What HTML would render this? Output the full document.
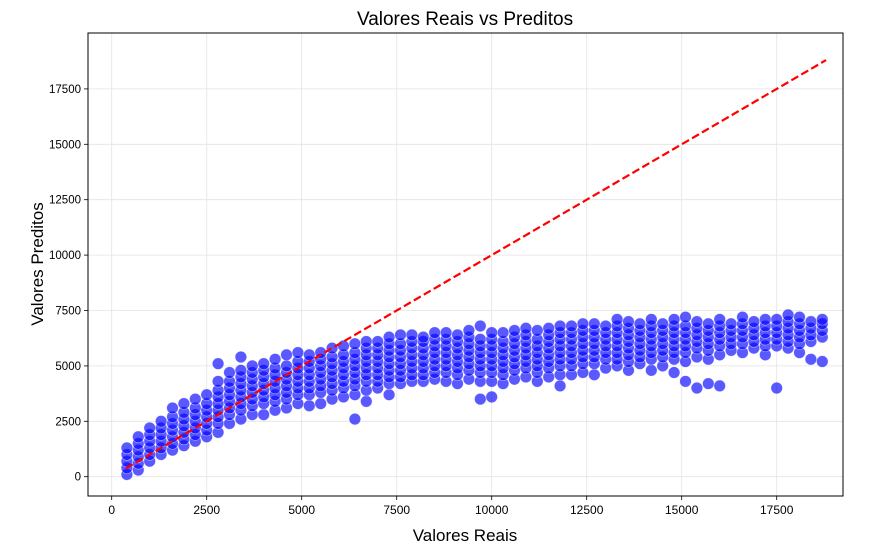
<!DOCTYPE html>
<html><head><meta charset="utf-8"><style>
body{margin:0;background:#fff;}
svg{display:block;font-family:"Liberation Sans","DejaVu Sans",sans-serif;}
</style></head><body>
<svg id="chart" width="873" height="554" xmlns="http://www.w3.org/2000/svg">
<text x="465" y="25" text-anchor="middle" font-size="19">Valores Reais vs Preditos</text>
<text x="465" y="541" text-anchor="middle" font-size="17">Valores Reais</text>
<text x="0" y="0" transform="translate(43,264) rotate(-90)" text-anchor="middle" font-size="17">Valores Preditos</text>
<g id="grid"></g><g id="pts"></g><g id="line"></g><g id="axes"></g>
</svg>
<script>
const xTicks=[0,2500,5000,7500,10000,12500,15000,17500];
const yTicks=[0,2500,5000,7500,10000,12500,15000,17500];
const refLine=[370,18800];
const actualCols=[400,700,1000,1300,1600,1900,2200,2500,2800,3100,3400,3700,4000,4300,4600,4900,5200,5500,5800,6100,6400,6700,7000,7300,7600,7900,8200,8500,8800,9100,9400,9700,10000,10300,10600,10900,11200,11500,11800,12100,12400,12700,13000,13300,13600,13900,14200,14500,14800,15100,15400,15700,16000,16300,16600,16900,17200,17500,17800,18100,18400,18700];
const predictedCols=[
[100,400,700,1000,1300],[300,600,900,1200,1500,1800],[700,1000,1300,1600,1900,2200],[1000,1300,1600,1900,2200,2500],
[1200,1500,1800,2100,2400,2700,3100],[1400,1700,2000,2300,2600,2900,3300],[1600,1900,2200,2500,2800,3100,3500],[1800,2100,2400,2700,3000,3300,3700],
[2000,2400,2700,3000,3300,3600,3900,4300,5100],[2400,2800,3100,3400,3700,4000,4300,4700],[2600,3000,3300,3600,3900,4200,4500,4800,5400],[2800,3200,3500,3800,4100,4400,4700,5000],
[2800,3300,3600,3900,4200,4500,4800,5100],[3000,3400,3700,4000,4300,4600,4900,5300],[3100,3500,3800,4100,4400,4700,5000,5500],[3300,3700,4000,4300,4600,4900,5200,5600],
[3200,3700,4000,4300,4600,4900,5200,5500],[3300,3800,4100,4400,4700,5000,5300,5600],[3500,3900,4200,4500,4800,5100,5400,5800],[3600,4000,4300,4600,4900,5200,5500,5900],
[2600,3700,4100,4400,4700,5000,5300,5600,6000],[3400,3900,4300,4600,4900,5200,5500,5800,6100],[4000,4300,4600,4900,5200,5500,5800,6100],[3700,4200,4500,4800,5100,5400,5700,6000,6300],
[4200,4500,4800,5100,5400,5700,6000,6400],[4300,4600,4900,5200,5500,5800,6100,6400],[4300,4600,4900,5200,5500,5800,6100,6300],[4400,4700,5000,5300,5600,5900,6200,6500],
[4300,4700,5000,5300,5600,5900,6200,6500],[4200,4600,4900,5200,5500,5800,6100,6400],[4400,4800,5100,5400,5700,6000,6300,6600],[3500,4300,4700,5000,5300,5600,5900,6200,6800],
[3600,4300,4700,5000,5300,5600,5900,6200,6500],[4200,4600,4900,5200,5500,5800,6100,6500],[4400,4800,5100,5400,5700,6000,6300,6600],[4500,4900,5200,5500,5800,6100,6400,6700],
[4300,4700,5000,5300,5600,5900,6200,6600],[4500,4900,5200,5500,5800,6100,6400,6700],[4100,4600,5000,5300,5600,5900,6200,6500,6800],[4600,5000,5300,5600,5900,6200,6500,6800],
[4700,5100,5400,5700,6000,6300,6600,6900],[4600,5100,5400,5700,6000,6300,6600,6900],[4900,5300,5600,5900,6200,6500,6800],[5000,5300,5600,5900,6200,6500,6800,7100],
[4800,5200,5500,5800,6100,6400,6700,7000],[5100,5400,5700,6000,6300,6600,6900],[4800,5300,5600,5900,6200,6500,6800,7100],[5000,5400,5700,6000,6300,6600,6900],
[4700,5300,5600,5900,6200,6500,6800,7100],[4300,5200,5600,5900,6200,6500,6800,7200],[4000,5400,5800,6100,6400,6700,7000],[4200,5300,5700,6000,6300,6600,6900],
[4100,5500,5900,6200,6500,6800,7100],[5700,6000,6300,6600,6900],[5600,6000,6300,6600,6900,7200],[5800,6100,6400,6700,7000],
[5500,5900,6200,6500,6800,7100],[4000,5900,6200,6500,6800,7100],[5800,6100,6400,6700,7000,7300],[5600,6000,6300,6600,6900,7200],
[5300,6100,6400,6700,7000],[5200,6300,6600,6900,7100]];
const NS="http://www.w3.org/2000/svg";
const L=88,R=843,T=33,B=496;
const X=v=>111.7+v*0.03800;
const Y=v=>476.7-v*0.02216;
function mk(tag,attrs,parent){const e=document.createElementNS(NS,tag);for(const k in attrs)e.setAttribute(k,attrs[k]);parent.appendChild(e);return e;}
const grid=document.getElementById('grid'),axes=document.getElementById('axes'),pts=document.getElementById('pts'),line=document.getElementById('line');
xTicks.forEach(t=>{const x=X(t);
const g=mk('line',{x1:x,x2:x,y1:T,y2:B,stroke:'#e3e3e3','stroke-width':0.8},grid);


mk('line',{x1:x,x2:x,y1:B,y2:B+4,stroke:'#000','stroke-width':0.8},axes);
const tx=mk('text',{x:x,y:B+18,'text-anchor':'middle','font-size':12},axes);tx.textContent=t;

});
yTicks.forEach(t=>{const y=Y(t);
const g=mk('line',{x1:L,x2:R,y1:y,y2:y,stroke:'#e3e3e3','stroke-width':0.8},grid);


mk('line',{x1:L-4,x2:L,y1:y,y2:y,stroke:'#000','stroke-width':0.8},axes);
const tx=mk('text',{x:L-7,y:y+4,'text-anchor':'end','font-size':11.5},axes);tx.textContent=t;

});
const fr=mk('rect',{x:L,y:T,width:R-L,height:B-T,fill:'none',stroke:'#000','stroke-width':1},axes);


actualCols.forEach((a,i)=>{predictedCols[i].forEach(p=>{
const c=mk('circle',{cx:X(a),cy:Y(p),r:5.8,fill:'#0000ff','fill-opacity':0.65,stroke:'#ffffff','stroke-width':0.6,'stroke-opacity':0.6},pts);

});});
const ln=mk('line',{x1:X(refLine[0]),y1:Y(refLine[0]),x2:X(refLine[1]),y2:Y(refLine[1]),stroke:'#ff0000','stroke-width':2.2,'stroke-dasharray':'8,3.5'},line);


</script>
</body></html>
